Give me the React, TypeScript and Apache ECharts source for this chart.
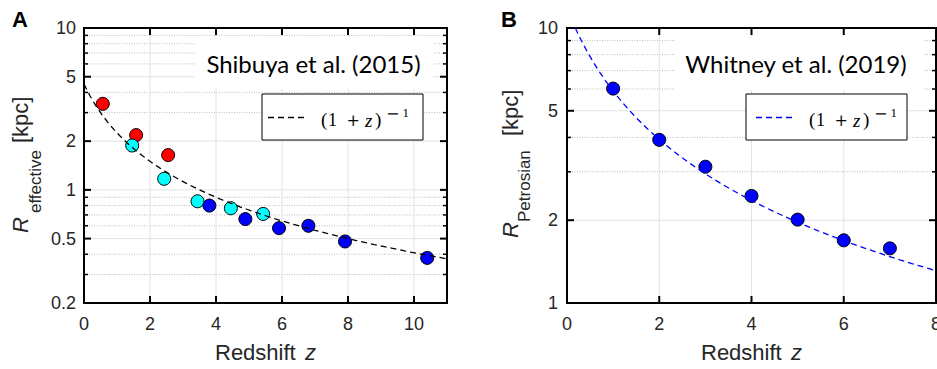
import React, { useEffect, useRef } from 'react';
import * as echarts from 'echarts';

// ---------- data ----------
// Panel A — Shibuya et al. (2015)
const redZ = [0.57, 1.58, 2.55];
const redR = [3.4, 2.18, 1.64];
const cyanZ = [1.46, 2.43, 3.44, 4.45, 5.43];
const cyanR = [1.88, 1.17, 0.85, 0.77, 0.71];
const blueZ = [3.8, 4.89, 5.91, 6.8, 7.91, 10.4];
const blueR = [0.8, 0.66, 0.58, 0.6, 0.48, 0.38];
const fitAmpA = 4.5; // R = A (1+z)^-1

// Panel B — Whitney et al. (2019)
const whitZ = [1, 2, 3, 4, 5, 6, 7];
const whitR = [6.02, 3.92, 3.13, 2.45, 2.01, 1.69, 1.58];
const fitAmpB = 11.8;

// axes / ticks
const xMaxA = 11;
const xMaxB = 8;
const yMinA = 0.2;
const yMinB = 1;
const yMaxAll = 10;
const xTicksA = [0, 2, 4, 6, 8, 10];
const xTicksB = [0, 2, 4, 6, 8];
const yMajorA = [0.2, 0.5, 1, 2, 5, 10];
const yMinorA = [0.3, 0.4, 0.6, 0.7, 0.8, 0.9, 3, 4, 6, 7, 8, 9];
const yMajorB = [1, 2, 5, 10];
const yMinorB = [3, 4, 6, 7, 8, 9];

const SANS = 'Liberation Sans';
const SERIF = 'Liberation Serif';
const DSERIF = 'DejaVu Serif';
const CAL = 'Lato';
const TXT = '#262626';

// model curve R = amp/(1+z), from where it enters the plot (R <= yMax) to zMax
function fitCurve(amp: number, zMax: number, yMax: number) {
  const z0 = Math.max(0, amp / yMax - 1);
  const n = 60;
  const pts: number[][] = [];
  for (let i = 0; i <= n; i++) {
    const z = z0 + ((zMax - z0) * i) / n;
    pts.push([z, amp / (1 + z)]);
  }
  return pts;
}

function zip(a: number[], b: number[]) {
  return a.map((v, i) => [v, b[i]]);
}

function xAxis(gridIndex: number, max: number, ticks: number[]) {
  return {
    type: 'value', gridIndex, min: 0, max,
    axisLine: { show: false }, axisTick: { show: false }, splitLine: { show: false },
    axisLabel: { customValues: ticks, margin: 12, fontSize: 18, color: TXT, fontFamily: SANS },
  };
}

function yAxis(gridIndex: number, min: number, max: number, major: number[], margin: number) {
  return {
    type: 'log', gridIndex, min, max,
    axisLine: { show: false }, axisTick: { show: false }, splitLine: { show: false },
    axisLabel: {
      customValues: major, margin, fontSize: 18, color: TXT, fontFamily: SANS,
      formatter: (v: number) => String(Number(v.toPrecision(3))),
    },
  };
}

// grid lines and inward ticks, placed through the axes' scales
function gridSeries(xi: number, yi: number, xTicks: number[], yMajor: number[], yMinor: number[], xMax: number, yMin: number, yMax: number) {
  return {
    type: 'custom', xAxisIndex: xi, yAxisIndex: yi, data: [[1, 2]], z: 1,
    renderItem: (params: any, api: any) => {
      const cs = params.coordSys;
      const L = cs.x, R = cs.x + cs.width, T = cs.y, B = cs.y + cs.height;
      const children: any[] = [];
      const seg = (x1: number, y1: number, x2: number, y2: number, w: number, c: string) => ({
        type: 'line', shape: { x1, y1, x2, y2 }, style: { stroke: c, lineWidth: w },
      });
      yMinor.forEach((v) => {
        const py = api.coord([1, v])[1];
        children.push({ type: 'line', shape: { x1: L, y1: py, x2: R, y2: py }, style: { stroke: '#bdbdbd', lineWidth: 1, lineDash: [1, 1.5] } });
      });
      yMajor.filter((v) => v > yMin && v < yMax).forEach((v) => {
        const py = api.coord([1, v])[1];
        children.push(seg(L, py, R, py, 1, '#e2e2e2'));
      });
      xTicks.filter((v) => v > 0 && v < xMax).forEach((v) => {
        const px = api.coord([v, 2])[0];
        children.push(seg(px, T, px, B, 1, '#e2e2e2'));
      });
      xTicks.forEach((v) => {
        const px = api.coord([v, 2])[0];
        children.push(seg(px, B, px, B - 7, 2, '#000'), seg(px, T, px, T + 7, 2, '#000'));
      });
      yMajor.forEach((v) => {
        const py = api.coord([1, v])[1];
        children.push(seg(L, py, L + 7, py, 2, '#000'), seg(R, py, R - 7, py, 2, '#000'));
      });
      yMinor.forEach((v) => {
        const py = api.coord([1, v])[1];
        children.push(seg(L, py, L + 4, py, 1.5, '#000'), seg(R, py, R - 4, py, 1.5, '#000'));
      });
      return { type: 'group', children };
    },
  };
}

function scatter(data: number[][], color: string, xi: number, yi: number) {
  return {
    type: 'scatter', xAxisIndex: xi, yAxisIndex: yi, data, symbolSize: 13,
    itemStyle: { color, borderColor: '#000', borderWidth: 1, opacity: 1 }, z: 3,
  };
}

function fitLine(data: number[][], color: string, xi: number, yi: number) {
  return {
    type: 'line', xAxisIndex: xi, yAxisIndex: yi, data, showSymbol: false, clip: false,
    lineStyle: { color, width: 1.3, type: [6, 4] }, z: 4,
  };
}

function txt(text: string, x: number, y: number, font: string, extra: any = {}) {
  return { type: 'text', x, y, ...extra, style: { text, font, fill: TXT, align: 'left', verticalAlign: 'middle' } };
}

function legend(bx: number, dx: number, color: string) {
  const g = (text: string, x: number, y: number, font: string) => ({
    type: 'text', x: x + dx, y, z: 11,
    style: { text, font, fill: '#000', align: 'left', verticalAlign: 'middle' },
  });
  return [
    { type: 'rect', z: 10, shape: { x: 262 + bx, y: 94, width: 161, height: 46 }, style: { fill: '#fff', stroke: '#000', lineWidth: 1 } },
    { type: 'line', z: 11, shape: { x1: 268 + dx, y1: 117.5, x2: 305 + dx, y2: 117.5 }, style: { stroke: color, lineWidth: 1.3, lineDash: [6, 4] } },
    g('(', 321, 119.5, `19px ${SERIF}`),
    g('1', 328, 120, `18px ${SERIF}`),
    g('+', 346.5, 120, `16px ${DSERIF}`),
    g('z', 365, 120, `italic 19px ${SERIF}`),
    g(')', 375, 119.5, `19px ${SERIF}`),
    g('\u2212', 386, 113, `16px ${DSERIF}`),
    g('1', 402.5, 112.8, `13px ${SERIF}`),
  ];
}

function buildGraphic(): any[] {
  const rot = { rotation: Math.PI / 2 };
  return [
    { type: 'text', x: 12, y: 19.5, style: { text: 'A', font: `bold 22px ${SANS}`, fill: '#000', verticalAlign: 'middle' } },
    { type: 'text', x: 501, y: 19.5, style: { text: 'B', font: `bold 22px ${SANS}`, fill: '#000', verticalAlign: 'middle' } },
    // x titles
    txt('Redshift', 215, 352.5, `22px ${SANS}`),
    txt('z', 305, 352.5, `italic 22px ${SANS}`),
    txt('Redshift', 701, 352.5, `22px ${SANS}`),
    txt('z', 791, 352.5, `italic 22px ${SANS}`),
    // y titles (rotated, read bottom to top)
    txt('R', 20.5, 233, `italic 22px ${SANS}`, rot),
    txt('effective', 35.5, 213, `17px ${SANS}`, rot),
    txt('[kpc]', 20.5, 143, `22px ${SANS}`, rot),
    txt('R', 510.8, 238, `italic 22px ${SANS}`, rot),
    txt('Petrosian', 524, 222, `17px ${SANS}`, rot),
    txt('[kpc]', 510.8, 136, `22px ${SANS}`, rot),
    // text backgrounds + labels
    { type: 'rect', z: 2, shape: { x: 195, y: 37, width: 238, height: 52 }, style: { fill: '#fff' } },
    { type: 'text', x: 313.5, y: 63.5, z: 6, style: { text: 'Shibuya et al. (2015)', font: `24px ${CAL}`, fill: '#000', align: 'center', verticalAlign: 'middle' } },
    { type: 'rect', z: 2, shape: { x: 675, y: 36, width: 248, height: 54 }, style: { fill: '#fff' } },
    { type: 'text', x: 796, y: 63.5, z: 6, style: { text: 'Whitney et al. (2019)', font: `24px ${CAL}`, fill: '#000', align: 'center', verticalAlign: 'middle' } },
    ...legend(0, 0, '#000'),
    ...legend(484, 488, '#0000ff'),
  ];
}

export default function App() {
  const ref = useRef<HTMLDivElement>(null);
  useEffect(() => {
    if (!ref.current) return;
    const chart = echarts.init(ref.current, undefined, { renderer: 'svg' });
    chart.setOption({
      animation: false,
      grid: [
        { left: 84, top: 28, width: 363, height: 275, containLabel: false, outerBoundsMode: 'none', show: true, borderColor: '#000', borderWidth: 2, backgroundColor: 'transparent' },
        { left: 567, top: 28, width: 369, height: 275, containLabel: false, outerBoundsMode: 'none', show: true, borderColor: '#000', borderWidth: 2, backgroundColor: 'transparent' },
      ],
      xAxis: [xAxis(0, xMaxA, xTicksA), xAxis(1, xMaxB, xTicksB)],
      yAxis: [yAxis(0, yMinA, yMaxAll, yMajorA, 8), yAxis(1, yMinB, yMaxAll, yMajorB, 9)],
      series: [
        gridSeries(0, 0, xTicksA, yMajorA, yMinorA, xMaxA, yMinA, yMaxAll),
        gridSeries(1, 1, xTicksB, yMajorB, yMinorB, xMaxB, yMinB, yMaxAll),
        scatter(zip(redZ, redR), '#ff0000', 0, 0),
        scatter(zip(cyanZ, cyanR), '#00ffff', 0, 0),
        scatter(zip(blueZ, blueR), '#0000ff', 0, 0),
        fitLine(fitCurve(fitAmpA, xMaxA, yMaxAll), '#000', 0, 0),
        scatter(zip(whitZ, whitR), '#0000ff', 1, 1),
        fitLine(fitCurve(fitAmpB, xMaxB, yMaxAll), '#0000ff', 1, 1),
      ],
      graphic: buildGraphic(),
    } as any);
    return () => chart.dispose();
  }, []);
  return <div ref={ref} style={{ position: 'absolute', left: 0, top: 0, width: 937, height: 369 }} />;
}
